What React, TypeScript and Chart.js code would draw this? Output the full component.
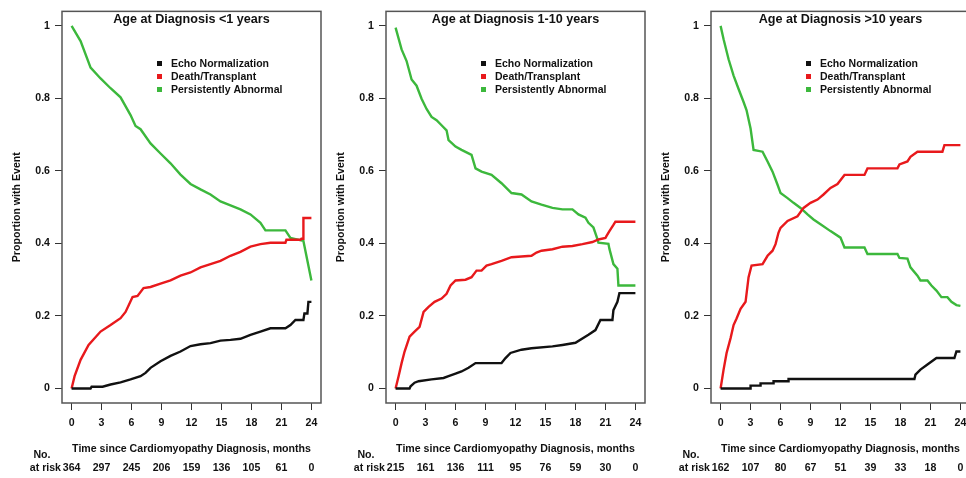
import React, { useEffect, useRef } from "react";
import { Chart, registerables } from "chart.js";
Chart.register(...registerables);

type Pt = [number, number];

const xTicks = [0, 3, 6, 9, 12, 15, 18, 21, 24];
const yTicks = [0, 0.2, 0.4, 0.6, 0.8, 1];
const yTickLabels = ["0", "0.2", "0.4", "0.6", "0.8", "1"];
const panelTitles = ["Age at Diagnosis <1 years", "Age at Diagnosis 1-10 years", "Age at Diagnosis >10 years"];
const legendLabels = ["Echo Normalization", "Death/Transplant", "Persistently Abnormal"];
const seriesColors = ["#111111", "#e8191c", "#3cb83c"];
const xTitle = "Time since Cardiomyopathy Diagnosis, months";
const yTitle = "Proportion with Event";

const atRiskLt1 = [364, 297, 245, 206, 159, 136, 105, 61, 0];
const atRisk1to10 = [215, 161, 136, 111, 95, 76, 59, 30, 0];
const atRiskGt10 = [162, 107, 80, 67, 51, 39, 33, 18, 0];

// Age < 1 years
const lt1Echo: Pt[] = [[0,0],[1.9,0],[2.0,0.005],[3.1,0.005],[3.9,0.011],[4.9,0.017],[5.9,0.025],[6.9,0.034],[7.4,0.043],[7.9,0.057],[8.9,0.075],[9.9,0.09],[10.9,0.102],[11.9,0.117],[12.9,0.122],[13.9,0.125],[14.9,0.132],[15.9,0.134],[16.9,0.137],[17.9,0.148],[18.9,0.157],[19.9,0.166],[21.4,0.166],[21.9,0.175],[22.4,0.189],[23.2,0.189],[23.3,0.207],[23.6,0.207],[23.7,0.239],[24,0.239]];
const lt1Death: Pt[] = [[0,0],[0.3,0.034],[0.9,0.079],[1.7,0.12],[2.9,0.157],[3.9,0.175],[4.9,0.194],[5.4,0.211],[6.1,0.252],[6.6,0.255],[7.2,0.277],[7.9,0.28],[8.9,0.289],[9.9,0.298],[10.9,0.311],[11.9,0.32],[12.9,0.334],[13.9,0.343],[14.9,0.352],[15.9,0.366],[16.9,0.377],[17.9,0.391],[18.9,0.398],[19.9,0.402],[21.4,0.402],[21.5,0.41],[22.9,0.41],[23.0,0.413],[23.2,0.413],[23.2,0.47],[24,0.47]];
const lt1Abn: Pt[] = [[0,1.0],[0.9,0.958],[1.9,0.885],[2.9,0.855],[3.9,0.828],[4.9,0.803],[5.9,0.754],[6.4,0.724],[6.9,0.715],[7.9,0.676],[8.9,0.648],[9.9,0.621],[10.9,0.59],[11.9,0.564],[12.9,0.549],[13.9,0.535],[14.9,0.516],[15.9,0.505],[16.9,0.494],[17.9,0.48],[18.9,0.457],[19.4,0.436],[21.4,0.436],[21.9,0.415],[23.2,0.407],[24,0.298]];

// Age 1-10 years
const midEcho: Pt[] = [[0,0],[1.4,0],[1.5,0.006],[1.9,0.016],[2.3,0.02],[3.6,0.025],[4.8,0.029],[5.3,0.034],[6.0,0.041],[6.6,0.047],[7.3,0.057],[8.0,0.07],[10.6,0.07],[11.0,0.084],[11.5,0.098],[12.6,0.107],[13.6,0.111],[15.7,0.116],[16.7,0.12],[18.0,0.126],[19.3,0.148],[20.0,0.161],[20.5,0.189],[21.7,0.189],[21.8,0.216],[22.2,0.239],[22.4,0.263],[24,0.263]];
const midDeath: Pt[] = [[0,0],[0.3,0.034],[0.6,0.07],[0.9,0.102],[1.4,0.143],[1.9,0.157],[2.4,0.17],[2.8,0.211],[3.3,0.225],[3.9,0.239],[4.6,0.248],[5.1,0.261],[5.5,0.284],[6.0,0.298],[7.0,0.3],[7.6,0.307],[8.1,0.325],[8.6,0.325],[9.1,0.339],[9.6,0.343],[10.6,0.352],[11.6,0.362],[12.6,0.364],[13.6,0.366],[14.1,0.375],[14.6,0.38],[15.7,0.384],[16.7,0.391],[17.7,0.393],[18.7,0.398],[19.7,0.404],[20.3,0.411],[21.0,0.415],[21.1,0.42],[21.4,0.434],[21.8,0.451],[22.0,0.46],[24,0.46]];
const midAbn: Pt[] = [[0,0.995],[0.6,0.935],[1.1,0.903],[1.6,0.852],[2.1,0.835],[2.6,0.799],[3.1,0.771],[3.6,0.749],[4.1,0.74],[4.6,0.726],[5.1,0.712],[5.3,0.685],[6.0,0.667],[6.6,0.658],[7.6,0.644],[8.0,0.607],[8.6,0.598],[9.6,0.589],[10.6,0.566],[11.6,0.539],[12.6,0.535],[13.6,0.516],[14.6,0.507],[15.7,0.498],[16.7,0.494],[17.7,0.494],[18.3,0.48],[19.0,0.471],[19.3,0.457],[19.8,0.444],[20.2,0.412],[20.3,0.402],[21.3,0.399],[21.4,0.385],[21.8,0.343],[22.2,0.33],[22.3,0.284],[24,0.284]];

// Age > 10 years
const gt10Echo: Pt[] = [[0,0],[3.0,0],[3.0,0.008],[4.0,0.008],[4.0,0.014],[5.3,0.014],[5.3,0.02],[6.8,0.02],[6.8,0.026],[19.4,0.026],[19.5,0.038],[20.0,0.052],[20.7,0.066],[21.6,0.084],[23.4,0.084],[23.6,0.102],[24,0.102]];
const gt10Death: Pt[] = [[0,0],[0.3,0.052],[0.6,0.098],[1.0,0.139],[1.3,0.175],[1.6,0.193],[2.0,0.22],[2.5,0.239],[2.8,0.307],[3.1,0.339],[4.2,0.343],[4.7,0.366],[5.2,0.38],[5.5,0.398],[5.8,0.43],[6.0,0.443],[6.7,0.462],[7.7,0.475],[8.3,0.498],[9.0,0.512],[9.7,0.521],[10.3,0.535],[11.0,0.553],[11.7,0.564],[12.4,0.589],[14.4,0.589],[14.7,0.607],[17.7,0.607],[17.9,0.618],[18.7,0.626],[19.0,0.639],[19.7,0.653],[22.2,0.653],[22.4,0.671],[24,0.671]];
const gt10Abn: Pt[] = [[0,1.0],[0.3,0.963],[0.8,0.908],[1.3,0.863],[1.8,0.826],[2.3,0.79],[2.6,0.767],[3.0,0.717],[3.3,0.658],[4.2,0.653],[4.7,0.626],[5.2,0.598],[5.7,0.562],[6.0,0.539],[6.7,0.525],[7.3,0.512],[8.0,0.498],[8.7,0.48],[9.3,0.466],[10.0,0.453],[11.0,0.434],[12.0,0.416],[12.4,0.389],[14.4,0.389],[14.7,0.371],[17.7,0.371],[17.9,0.36],[18.7,0.358],[19.0,0.334],[19.7,0.311],[20.0,0.298],[20.7,0.298],[21.1,0.284],[21.6,0.27],[22.1,0.252],[22.7,0.252],[23.1,0.239],[23.6,0.23],[24,0.228]];

const FONT = '"Liberation Sans", Arial, Helvetica, sans-serif';
const CANVAS_W = 325;
const CANVAS_H = 478;
const panelLefts = [0, 324, 649];

interface PanelProps {
  title: string;
  series: Pt[][];
  atRisk: number[];
  left: number;
}

function Panel({ title, series, atRisk, left }: PanelProps) {
  const ref = useRef<HTMLCanvasElement | null>(null);
  useEffect(() => {
    if (!ref.current) return;
    const decor = {
      id: "decor",
      afterDraw(chart: any) {
        const { ctx, chartArea: ca, scales } = chart;
        ctx.save();
        ctx.strokeStyle = "#555";
        ctx.lineWidth = 1.5;
        ctx.strokeRect(ca.left, ca.top, ca.right - ca.left, ca.bottom - ca.top);
        const cx = (ca.left + ca.right) / 2;
        ctx.fillStyle = "#111";
        ctx.textBaseline = "middle";
        ctx.textAlign = "center";
        ctx.font = `bold 12.6px ${FONT}`;
        ctx.fillText(title, cx, 20);
        // legend
        ctx.font = `bold 10.5px ${FONT}`;
        ctx.textAlign = "left";
        legendLabels.forEach((lab, i) => {
          const y = 64 + i * 13;
          ctx.fillStyle = seriesColors[i];
          ctx.fillRect(ca.left + 95, y - 3, 5, 5);
          ctx.fillStyle = "#111";
          ctx.fillText(lab, ca.left + 109, y);
        });
        // y title
        ctx.save();
        ctx.translate(17.5, (ca.top + ca.bottom) / 2);
        ctx.rotate(-Math.PI / 2);
        ctx.textAlign = "center";
        ctx.font = `bold 10.6px ${FONT}`;
        ctx.fillText(yTitle, 0, 0);
        ctx.restore();
        // x title
        ctx.textAlign = "center";
        ctx.font = `bold 10.6px ${FONT}`;
        ctx.fillText(xTitle, cx, 449);
        // at risk table
        ctx.fillText("No.", 42, 455);
        ctx.textAlign = "right";
        ctx.fillText("at risk", 61, 468);
        ctx.textAlign = "center";
        atRisk.forEach((n, i) => {
          ctx.fillText(String(n), scales.x.getPixelForValue(xTicks[i]), 468);
        });
        ctx.restore();
      },
    };
    const chart = new Chart(ref.current, {
      type: "line",
      data: {
        datasets: series.map((s, i) => ({
          label: legendLabels[i],
          data: s.map(([x, y]) => ({ x, y })),
          borderColor: seriesColors[i],
          backgroundColor: seriesColors[i],
          borderWidth: 2.4,
          pointRadius: 0,
          fill: false,
          tension: 0,
        })),
      },
      options: {
        animation: false,
        responsive: false,
        maintainAspectRatio: false,
        layout: { padding: { top: 7, right: 4, left: 0, bottom: 0 } },
        plugins: {
          legend: { display: false },
          title: { display: false },
          tooltip: { enabled: false },
        },
        scales: {
          x: {
            type: "linear",
            min: -0.96,
            max: 24.96,
            afterBuildTicks: (s: any) => {
              s.ticks = xTicks.map((v) => ({ value: v }));
            },
            afterFit: (s: any) => {
              s.height = 75;
            },
            grid: { drawOnChartArea: false, drawTicks: true, tickLength: 7, color: "#333", lineWidth: 1 },
            border: { display: false },
            ticks: {
              padding: 7,
              color: "#111",
              autoSkip: false,
              maxRotation: 0,
              font: { family: FONT, size: 10.6, weight: "bold" },
              callback: (v: any) => String(v),
            },
          },
          y: {
            type: "linear",
            min: -0.04,
            max: 1.04,
            afterBuildTicks: (s: any) => {
              s.ticks = yTicks.map((v) => ({ value: v }));
            },
            afterFit: (s: any) => {
              s.width = 62;
            },
            grid: { drawOnChartArea: false, drawTicks: true, tickLength: 7, color: "#333", lineWidth: 1 },
            border: { display: false },
            ticks: {
              padding: 5,
              color: "#111",
              autoSkip: false,
              font: { family: FONT, size: 10.6, weight: "bold" },
              callback: (v: any) => {
                const i = yTicks.indexOf(v);
                return i >= 0 ? yTickLabels[i] : "";
              },
            },
          },
        },
      } as any,
      plugins: [decor],
    });
    return () => chart.destroy();
  }, [title, series, atRisk]);
  return (
    <canvas
      ref={ref}
      width={CANVAS_W}
      height={CANVAS_H}
      style={{ position: "absolute", left, top: 0, width: CANVAS_W, height: CANVAS_H }}
    />
  );
}

const panelSeries: Pt[][][] = [
  [lt1Echo, lt1Death, lt1Abn],
  [midEcho, midDeath, midAbn],
  [gt10Echo, gt10Death, gt10Abn],
];
const panelAtRisk = [atRiskLt1, atRisk1to10, atRiskGt10];

export default function App() {
  return (
    <div style={{ position: "absolute", left: 0, top: 0, width: 966, height: 478, overflow: "hidden", background: "#fff" }}>
      {panelTitles.map((t, i) => (
        <Panel key={t} title={t} series={panelSeries[i]} atRisk={panelAtRisk[i]} left={panelLefts[i]} />
      ))}
    </div>
  );
}
